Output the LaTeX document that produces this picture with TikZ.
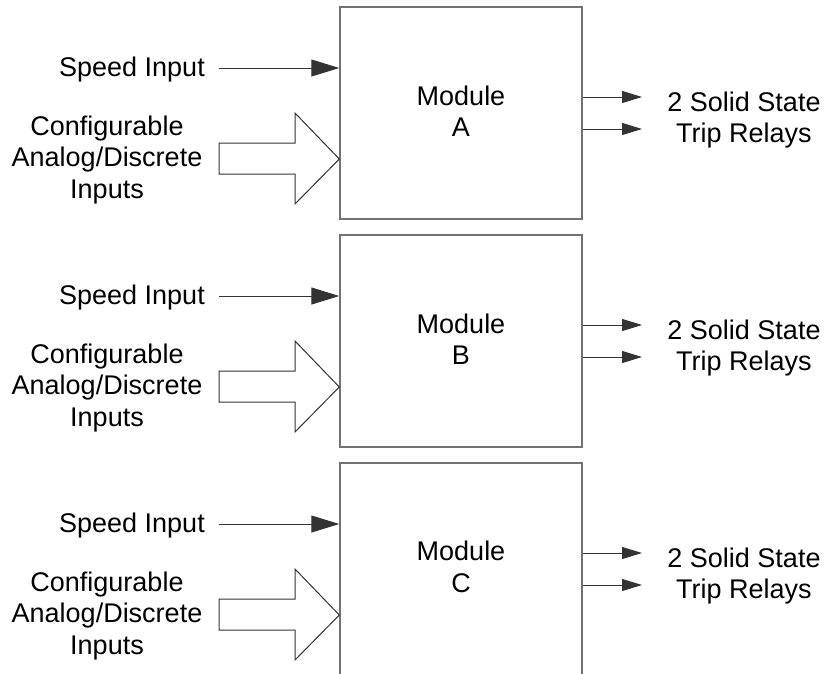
\documentclass[tikz,border=0pt]{standalone}
\usepackage{fontspec}
\setmainfont{Liberation Sans}
\usetikzlibrary{arrows.meta}
\tikzset{
  modbox/.style={draw=black!55, line width=1.4pt, minimum width=242pt, minimum height=212pt, inner sep=0pt, align=center, font=\fontsize{27}{31.5}\selectfont},
  lbl/.style={inner sep=0pt, align=center, font=\fontsize{27}{31.5}\selectfont},
  speedarrow/.style={draw=black!80, line width=1pt, -{Triangle[length=28pt,width=17pt]}},
  outarrow/.style={draw=black!80, line width=1pt, -{Triangle[length=20pt,width=12pt]}},
  hollow/.style={draw=black!80, line width=1pt, fill=white},
}
\begin{document}
\begin{tikzpicture}[x=1pt,y=-1pt]
\useasboundingbox (0,0) rectangle (825,673);
\clip (0,0) rectangle (825,673);
\foreach \k/\L in {0/A,1/B,2/C}{
  \pgfmathsetmacro{\dy}{228*\k}
  \begin{scope}[yshift=-\dy pt]
    \node[modbox] (m\L) at (461,113) {};
    \node[lbl] (mt\L) at (461,111) {Module\\\L};
    \node[lbl, anchor=east] (sp\L) at (205,70) {Speed Input};
    \node[lbl] (cf\L) at (107,160) {Configurable\\Analog/Discrete\\Inputs};
    \node[lbl] (tr\L) at (744,120) {2 Solid State\\Trip Relays};
    \coordinate (sps\L) at (219,68);
    \coordinate (o1\L) at (642,97);
    \coordinate (o2\L) at (642,129);
    \draw[speedarrow] (sps\L) -- (m\L.west |- sps\L);
    \draw[hollow] (219,143) -- (295,143) -- (295,113) -- (m\L.west |- 0,159) -- (295,204) -- (295,174) -- (219,174) -- cycle;
    \draw[outarrow] (m\L.east |- o1\L) -- (o1\L);
    \draw[outarrow] (m\L.east |- o2\L) -- (o2\L);
  \end{scope}
}
\end{tikzpicture}
\end{document}
